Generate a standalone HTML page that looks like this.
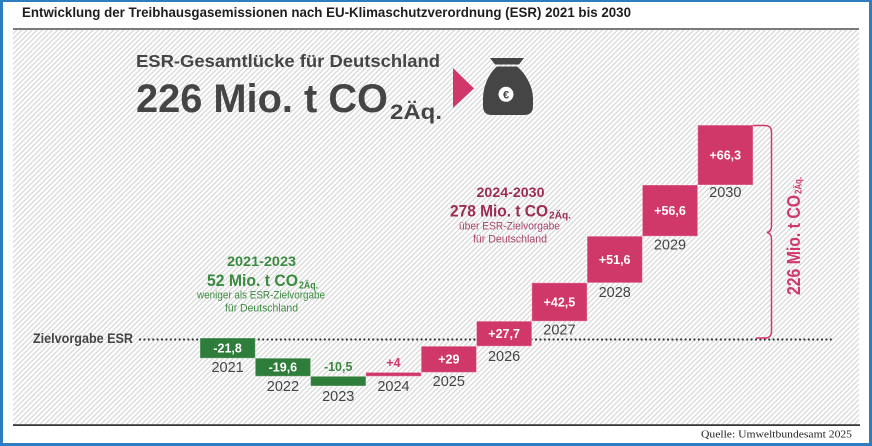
<!DOCTYPE html>
<html>
<head>
<meta charset="utf-8">
<style>
html,body{margin:0;padding:0;background:#fff;}
svg{display:block;}
text{font-family:"Liberation Sans",sans-serif;}
</style>
</head>
<body>
<svg width="872" height="446" viewBox="0 0 872 446" xmlns="http://www.w3.org/2000/svg">
  <defs>
    <pattern id="hatch" patternUnits="userSpaceOnUse" width="3.6" height="3.6" patternTransform="rotate(45)">
      <rect width="3.6" height="3.6" fill="#ffffff"/>
      <rect x="0" y="0" width="1.3" height="3.6" fill="#d9d9d9"/>
    </pattern>
  </defs>

  <!-- frame -->
  <rect x="0" y="0" width="872" height="446" fill="#2d7dc0"/>
  <rect x="3" y="2" width="866" height="441" fill="#ffffff"/>

  <!-- title -->
  <text x="22" y="17" font-size="14" font-weight="bold" fill="#1e1e1e" textLength="609" lengthAdjust="spacingAndGlyphs">Entwicklung der Treibhausgasemissionen nach EU-Klimaschutzverordnung (ESR)  2021 bis 2030</text>

  <!-- hatched panel -->
  <rect x="13" y="30" width="846" height="395" fill="url(#hatch)"/>
  <rect x="13" y="28" width="846" height="2" fill="#7a7a7a"/>
  <rect x="13" y="424.3" width="847" height="1.6" fill="#222"/>

  <!-- source -->
  <text x="701" y="437.5" font-family="Liberation Serif, serif" style="font-family:'Liberation Serif',serif" font-size="11" fill="#222" textLength="151" lengthAdjust="spacingAndGlyphs">Quelle: Umweltbundesamt 2025</text>

  <!-- headline -->
  <text x="136" y="67" font-size="17.5" font-weight="bold" fill="#454545" textLength="304" lengthAdjust="spacingAndGlyphs">ESR-Gesamtlücke für Deutschland</text>
  <text x="136" y="112" font-size="40" font-weight="bold" fill="#454545" textLength="252" lengthAdjust="spacingAndGlyphs">226 Mio. t CO</text>
  <text x="390" y="119" font-size="21" font-weight="bold" fill="#454545" textLength="52" lengthAdjust="spacingAndGlyphs">2Äq.</text>

  <!-- arrow -->
  <polygon points="453,68 474,88.5 453,108" fill="#d1386a"/>

  <!-- money bag -->
  <path d="M490,58 L524,58 L519,64.5 L495,64.5 Z" fill="#454545"/>
  <path d="M497,66.5 L517,66.5 C524,72 533,85 533,99 L533,106 Q533,115 524,115 L492,115 Q483,115 483,106 L483,99 C483,85 490,72 497,66.5 Z" fill="#454545"/>
  <circle cx="506" cy="94.3" r="7.5" fill="#ffffff"/>
  <text x="506" y="98.3" font-size="11" font-weight="bold" fill="#454545" text-anchor="middle">€</text>

  <!-- Zielvorgabe line -->
  <text x="33" y="343" font-size="14" font-weight="bold" fill="#444" textLength="100" lengthAdjust="spacingAndGlyphs">Zielvorgabe ESR</text>
  <line x1="140" y1="339.5" x2="834" y2="339.5" stroke="#333" stroke-width="2.2" stroke-linecap="round" stroke-dasharray="0 4.4"/>

  <!-- bars -->
  <g stroke="#ffffff" stroke-opacity="0.35" stroke-width="1">
    <rect x="200" y="338" width="55.3" height="20.2" fill="#2e7d3b"/>
    <rect x="255.3" y="358.2" width="55.3" height="18.1" fill="#2e7d3b"/>
    <rect x="310.6" y="376.3" width="55.3" height="9.7" fill="#2e7d3b"/>
    <rect x="365.9" y="372.4" width="55.3" height="3.9" fill="#d1386a"/>
    <rect x="421.2" y="346.2" width="55.3" height="26.2" fill="#d1386a"/>
    <rect x="476.5" y="321.2" width="55.3" height="25" fill="#d1386a"/>
    <rect x="531.8" y="282.8" width="55.3" height="38.4" fill="#d1386a"/>
    <rect x="587.1" y="236.2" width="55.3" height="46.6" fill="#d1386a"/>
    <rect x="642.4" y="185" width="55.3" height="51.2" fill="#d1386a"/>
    <rect x="697.7" y="125.1" width="55.3" height="59.9" fill="#d1386a"/>
  </g>

  <!-- value labels -->
  <g font-size="12.5" font-weight="bold" fill="#ffffff" text-anchor="middle">
    <text x="227.6" y="352.5">-21,8</text>
    <text x="282.9" y="371.6">-19,6</text>
    <text x="448.8" y="363.6">+29</text>
    <text x="504.1" y="338.2">+27,7</text>
    <text x="559.4" y="306.4">+42,5</text>
    <text x="614.7" y="263.9">+51,6</text>
    <text x="670" y="215">+56,6</text>
    <text x="725.3" y="159.4">+66,3</text>
  </g>
  <text x="338.2" y="371" font-size="12.5" font-weight="bold" fill="#3a8a3f" text-anchor="middle">-10,5</text>
  <text x="393.5" y="367" font-size="12.5" font-weight="bold" fill="#d1386a" text-anchor="middle">+4</text>

  <!-- year labels -->
  <g font-size="14.5" fill="#444" text-anchor="middle">
    <text x="227.6" y="372">2021</text>
    <text x="282.9" y="391">2022</text>
    <text x="338.2" y="401">2023</text>
    <text x="393.5" y="391">2024</text>
    <text x="448.8" y="386">2025</text>
    <text x="504.1" y="361">2026</text>
    <text x="559.4" y="334.5">2027</text>
    <text x="614.7" y="297">2028</text>
    <text x="670" y="249.5">2029</text>
    <text x="725.3" y="197">2030</text>
  </g>

  <!-- green annotation -->
  <g fill="#3a8a3f">
    <text x="227" y="266" font-size="14" font-weight="bold" textLength="69" lengthAdjust="spacingAndGlyphs">2021-2023</text>
    <text x="207" y="286" font-size="17" font-weight="bold" textLength="91" lengthAdjust="spacingAndGlyphs">52 Mio. t CO</text>
    <text x="299" y="288.5" font-size="10" font-weight="bold" textLength="19" lengthAdjust="spacingAndGlyphs">2Äq.</text>
    <text x="197" y="298.3" font-size="11" textLength="128" lengthAdjust="spacingAndGlyphs">weniger als ESR-Zielvorgabe</text>
    <text x="225" y="311.7" font-size="11" textLength="73" lengthAdjust="spacingAndGlyphs">für Deutschland</text>
  </g>

  <!-- maroon annotation -->
  <g fill="#9b2c52">
    <text x="476.5" y="197" font-size="14" font-weight="bold" textLength="68" lengthAdjust="spacingAndGlyphs">2024-2030</text>
    <text x="450" y="216.5" font-size="16.5" font-weight="bold" textLength="98" lengthAdjust="spacingAndGlyphs">278 Mio. t CO</text>
    <text x="549" y="218.5" font-size="10" font-weight="bold" textLength="22" lengthAdjust="spacingAndGlyphs">2Äq.</text>
  </g>
  <g fill="#a8446a">
    <text x="459" y="229.5" font-size="11" textLength="101" lengthAdjust="spacingAndGlyphs">über ESR-Zielvorgabe</text>
    <text x="473" y="242.5" font-size="11" textLength="74" lengthAdjust="spacingAndGlyphs">für Deutschland</text>
  </g>

  <!-- brace -->
  <path d="M753,125.5 H765 Q771.5,125.5 771.5,132 V226 Q771.5,231.5 767,232.5 Q771.5,233.5 771.5,239 V331 Q771.5,338 765,338 H756" fill="none" stroke="#d1386a" stroke-width="1.5"/>

  <!-- rotated total -->
  <text transform="translate(800,295) rotate(-90)" font-size="18" font-weight="bold" fill="#d1386a" textLength="100" lengthAdjust="spacingAndGlyphs">226 Mio. t CO</text>
  <text transform="translate(801.5,194) rotate(-90)" font-size="10" font-weight="bold" fill="#d1386a" textLength="17" lengthAdjust="spacingAndGlyphs">2Äq.</text>
</svg>
</body>
</html>
